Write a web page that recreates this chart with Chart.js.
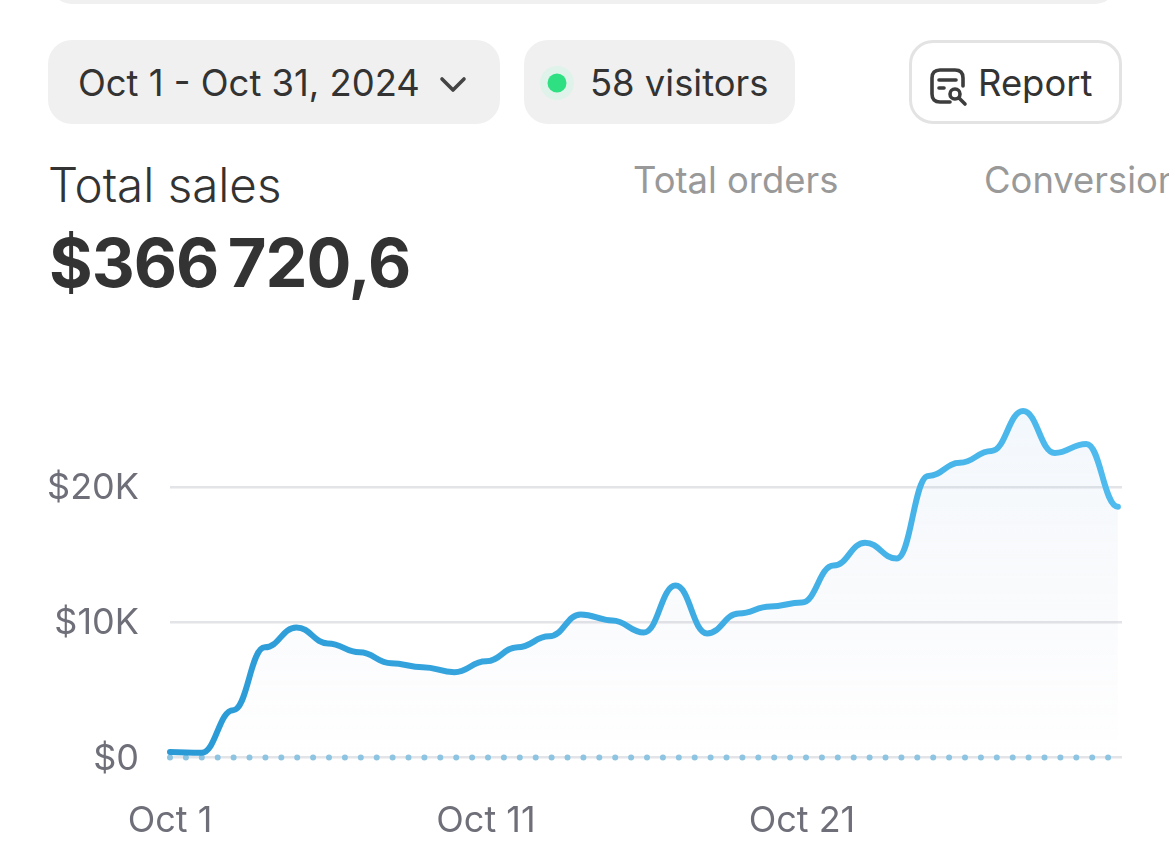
<!DOCTYPE html>
<html>
<head>
<meta charset="utf-8">
<title>Total sales</title>
<script src="https://cdn.jsdelivr.net/npm/chart.js@4"></script>
<style>
html,body{margin:0;padding:0;background:#fff}
body{width:1169px;height:865px;position:relative;overflow:hidden;font-family:Inter,sans-serif;color:#333}
.abs{position:absolute;white-space:nowrap}
.strip{left:50px;top:-40px;width:1067px;height:44px;background:#f0f0f0;border-radius:24px}
.pill{top:40px;height:84px;background:#f0f0f0;border-radius:24px}
.btn{left:909px;top:40px;width:207px;height:78px;border:3px solid #e3e3e3;border-radius:24px;background:#fff}
.txt{font-size:36.4px;line-height:42px;top:62px}
.muted{font-size:36.4px;line-height:42px;top:159px;color:#999}
#wrap{position:absolute;left:0;top:340px;width:1169px;height:525px}
</style>
</head>
<body>
<div class="abs strip"></div>
<div class="abs pill" style="left:48px;width:452px"></div>
<div class="abs txt" style="left:78px">Oct 1 - Oct 31, 2024</div>
<svg class="abs" style="left:438px;top:74px" width="30" height="20" viewBox="0 0 30 20"><path d="M4 5 L15 16 L26 5" fill="none" stroke="#444" stroke-width="3.6" stroke-linecap="round" stroke-linejoin="round"/></svg>
<div class="abs pill" style="left:524px;width:271px"></div>
<svg class="abs" style="left:540px;top:66px" width="34" height="34"><circle cx="17" cy="17" r="17" fill="#dff3ea"/><circle cx="17" cy="17" r="9.5" fill="#2fe083"/></svg>
<div class="abs txt" style="left:590px">58 visitors</div>
<div class="abs btn"></div>
<svg class="abs" style="left:929px;top:67px" width="40" height="42" viewBox="0 0 40 42" fill="none" stroke="#3d3d3d" stroke-width="3.6" stroke-linecap="round">
<path d="M21 35 H11 Q3 35 3 27 V11 Q3 3 11 3 H26 Q34 3 34 11 V19"/>
<path d="M10 13 H27"/><path d="M10 21 H15"/>
<circle cx="26" cy="27" r="5"/><path d="M30 31 L36 37"/>
</svg>
<div class="abs txt" style="left:978px">Report</div>
<div class="abs" style="left:48px;top:158px;font-size:47.5px;line-height:54px;font-weight:300">Total sales</div>
<div class="abs" style="left:49px;top:226px;font-size:66.7px;line-height:74px;font-weight:700;letter-spacing:-1px">$366&#8201;720,6</div>
<div class="abs muted" style="left:633px">Total orders</div>
<div class="abs muted" style="left:984px">Conversion</div>
<div id="wrap"><canvas id="chart"></canvas></div>
<script>
'use strict'
// dias de octubre y ventas
const dias = [1,2,3,4,5,6,7,8,9,10,11,12,13,14,15,16,17,18,19,20,21,22,23,24,25,26,27,28,29,30,31];
const ventas = [400,350,3500,8140,9610,8430,7770,6960,6670,6300,7110,8140,8950,10570,10130,9240,12700,9170,10640,11160,11450,14180,15870,14700,20800,21770,22650,25600,22500,23170,18530];
const linea_cero = [0,0,0,0,0,0,0,0,0,0,0,0,0,0,0,0,0,0,0,0,0,0,0,0,0,0,0,0,0,0,0];
const ticks_x = [1,11,21];
const ticks_y = [0,10000,20000];
const etiquetas_y = ['$0','$10K','$20K'];

Chart.defaults.font.family = 'Inter';
Chart.defaults.font.size = 36;
Chart.defaults.color = '#6f6f79';

function puntos(valores){
    return dias.map((d,i)=>({x:d,y:valores[i]}));
}
function gradienteLinea(c){
    const a = c.chart.chartArea;
    if(!a) return '#38a8e2';
    const g = c.chart.ctx.createLinearGradient(a.left,0,a.right,0);
    g.addColorStop(0,'#2a9ad6');
    g.addColorStop(1,'#4fbbee');
    return g;
}
function gradienteFondo(c){
    const a = c.chart.chartArea;
    if(!a) return 'transparent';
    const g = c.chart.ctx.createLinearGradient(0,a.top+20,0,a.bottom);
    g.addColorStop(0,'rgba(110,175,225,0.085)');
    g.addColorStop(0.55,'rgba(130,150,195,0.045)');
    g.addColorStop(0.9,'rgba(130,150,195,0.012)');
    g.addColorStop(1,'rgba(130,150,195,0)');
    return g;
}

// la curva original pasa casi plana por cada punto
const tangentes = {
    id:'tangentes',
    beforeDatasetsDraw(chart){
        const meta = chart.getDatasetMeta(0);
        meta.dataset.updateControlPoints(chart.chartArea);
        const pts = meta.data;
        pts.forEach((p,i)=>{
            const ant = pts[i-1], sig = pts[i+1];
            if(ant){ p.cp1x = p.x-(p.x-ant.x)*0.45; p.cp1y = p.y; }
            if(sig){ p.cp2x = p.x+(sig.x-p.x)*0.45; p.cp2y = p.y; }
        });
    }
};

new Chart(document.getElementById('chart').getContext('2d'),{
    type:'line',
    plugins:[tangentes],
    data:{
        datasets:[{
            data:puntos(ventas),
            borderColor:gradienteLinea,
            backgroundColor:gradienteFondo,
            borderWidth:6,
            borderCapStyle:'round',
            fill:'origin',
            clip:false,
            cubicInterpolationMode:'monotone',
            pointRadius:0
        },{
            data:puntos(linea_cero),
            borderColor:'#8cc4e2',
            borderWidth:6,
            borderCapStyle:'round',
            borderDash:[0,15.9],
            fill:false,
            clip:false,
            pointRadius:0
        }]
    },
    options:{
        responsive:true,
        maintainAspectRatio:false,
        animation:false,
        layout:{padding:{top:10.25,right:47,left:0,bottom:0}},
        plugins:{legend:{display:false},tooltip:{enabled:false}},
        scales:{
            x:{
                type:'linear',
                min:1,
                max:31.13,
                afterBuildTicks:a=>{a.ticks = ticks_x.map(v=>({value:v}));},
                afterFit:a=>{a.height = 107.5;},
                grid:{display:false},
                border:{display:false},
                ticks:{
                    padding:34,
                    maxRotation:0,
                    autoSkip:false,
                    callback:v=>'Oct '+v
                }
            },
            y:{
                min:0,
                max:26960,
                afterBuildTicks:a=>{a.ticks = ticks_y.map(v=>({value:v}));},
                afterFit:a=>{a.width = 170;},
                grid:{color:'#e3e4e8',lineWidth:2.6,drawTicks:false},
                border:{display:false},
                ticks:{
                    padding:31,
                    labelOffset:1.5,
                    callback:v=>etiquetas_y[ticks_y.indexOf(v)]
                }
            }
        }
    }
});
</script>
</body>
</html>
